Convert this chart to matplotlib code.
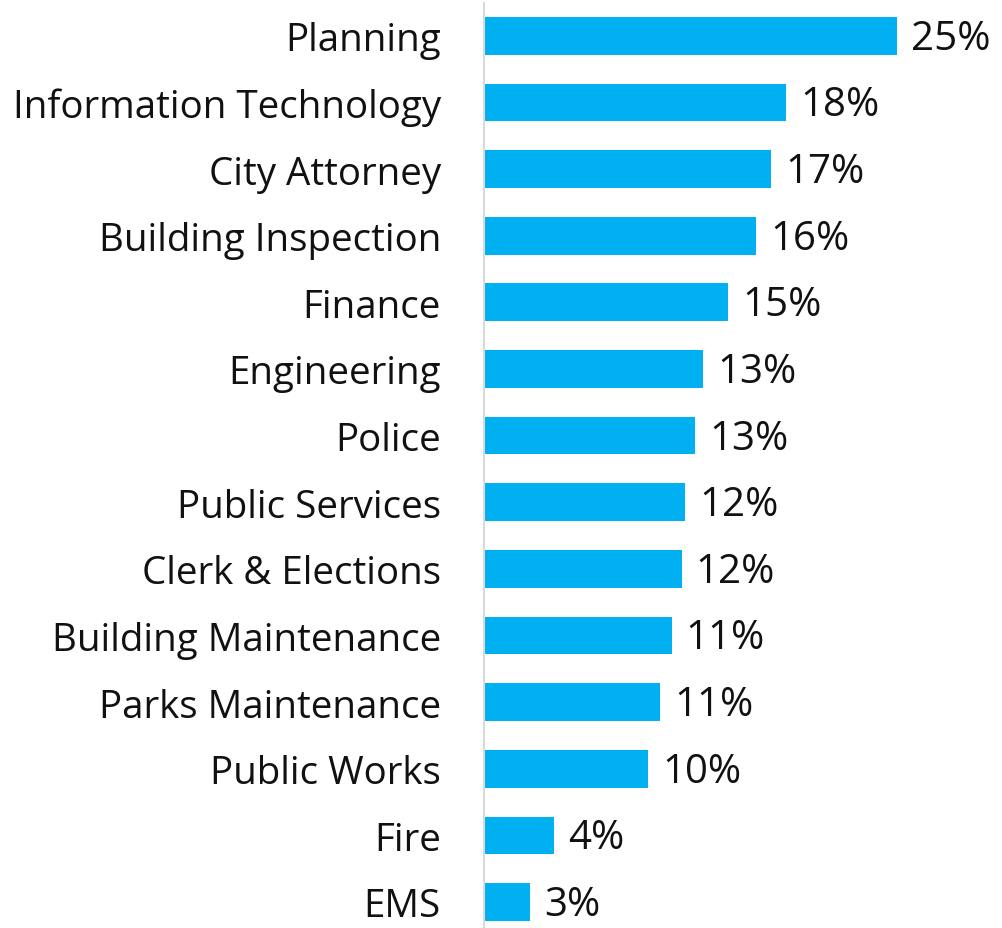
import numpy as np
import matplotlib.pyplot as plt

# departments, top to bottom
depts = ['Planning', 'Information Technology', 'City Attorney', 'Building Inspection',
         'Finance', 'Engineering', 'Police', 'Public Services', 'Clerk & Elections',
         'Building Maintenance', 'Parks Maintenance', 'Public Works', 'Fire', 'EMS']
pct = [24.9, 18.2, 17.3, 16.4, 14.7, 13.2, 12.7, 12.1, 11.9, 11.3, 10.6, 9.9, 4.2, 2.8]

W, H = 1003, 929
fig = plt.figure(figsize=(W / 100, H / 100), dpi=100)
ax = fig.add_axes([484 / W, 0, (W - 484) / W, 1 - 3.5 / H])

y = np.arange(len(depts))
ax.barh(y, pct, height=0.566, color='#00B0F0')
for yi, v in zip(y, pct):
    ax.text(v + 0.85, yi + 0.04, f'{v:.0f}%', va='center', ha='left', fontsize=29,
            family='Open Sans', color='#111111')

ax.set_ylim(13 + 26 / 66.6, -0.5)
ax.set_xlim(0, (W - 484) / 16.6)
ax.set_yticks(y)
ax.set_yticklabels(depts, fontsize=27.7, family='Open Sans', color='#111111')
ax.tick_params(axis='y', length=0, pad=31)
ax.set_xticks([])
for s in ['top', 'right', 'bottom']:
    ax.spines[s].set_visible(False)
ax.spines['left'].set_color('#d9d9d9')
ax.spines['left'].set_linewidth(1.5)

fig.savefig('out.png', dpi=100)
